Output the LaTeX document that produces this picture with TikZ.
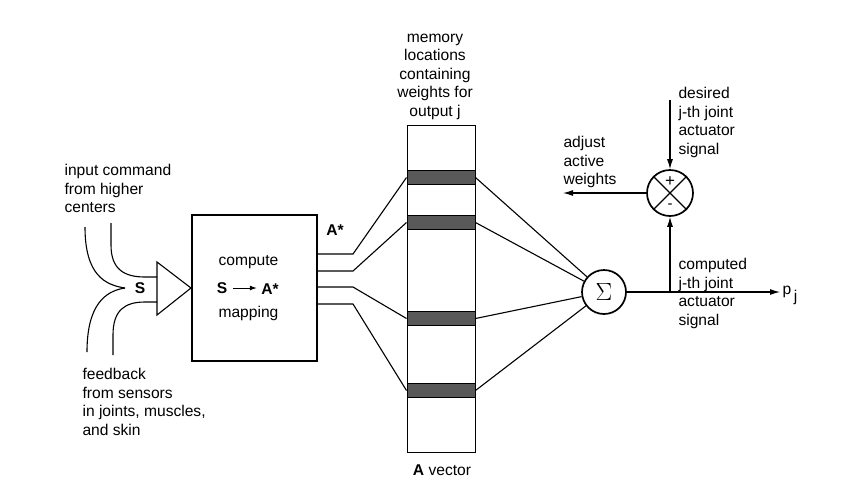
\documentclass[tikz,border=0pt]{standalone}
\usepackage{fontspec}
\setmainfont{Liberation Sans}
\usetikzlibrary{arrows.meta}
\begin{document}
\begin{tikzpicture}[x=1pt,y=-1pt, line width=1.1pt,
  txt/.style={font=\fontsize{15.6}{18.5}\selectfont, inner sep=0pt, align=left},
  btxt/.style={font=\fontsize{15.6}{18.5}\selectfont\bfseries, inner sep=0pt},
  arr/.style={-{Latex[length=10pt,width=6pt]}},
  barbox/.style={draw, fill=black!65, minimum width=68pt, minimum height=14pt, inner sep=0pt, line width=1pt},
  ring/.style={circle, draw, line width=1.7pt, inner sep=0pt}]
\useasboundingbox (0,0) rectangle (841,491);

% input lines
\draw (85,227) .. controls (85,275) and (105,285) .. (125,288);
\draw (125,288) .. controls (105,291) and (87,305) .. (87,352);
\draw (111,223) -- (111,245) .. controls (111,270) and (125,277) .. (145,277) -- (157,277);
\draw (113,355) -- (113,335) .. controls (113,310) and (125,302) .. (145,302) -- (157,302);
\draw (157,262) -- (157,315) -- (191,288) -- cycle;
\node[btxt] (S) at (140,288) {S};

% compute box
\node[draw, minimum width=125pt, minimum height=146pt, inner sep=0pt, line width=1.2pt] (box) at (254.5,288) {};
\node[txt, anchor=west] (cmp) at (218,262) {compute};
\node[txt, anchor=west] (map) at (218,313) {mapping};
\node[btxt] (S2) at (222,288) {S};
\node[btxt] (A2) at (270,289) {A*};
\draw[-{Latex[length=7pt,width=5pt]}, line width=0.9pt, shorten <=5pt, shorten >=4pt] (S2.east) -- (S2.east -| A2.west);
\node[btxt] (Astar) at (335,230) {A*};

% column
\node[draw, minimum width=68pt, minimum height=327pt, inner sep=0pt, line width=1pt] (col) at (441,288.5) {};
\node[barbox] (b1) at (441,177.5) {};
\node[barbox] (b2) at (441,222.5) {};
\node[barbox] (b3) at (441,318.5) {};
\node[barbox] (b4) at (441,390.5) {};

% box outputs to bars
\draw (box.east |- 0,254) -- (353,254) -- (b1.west);
\draw (box.east |- 0,271) -- (353,271) -- (b2.west);
\draw (box.east |- 0,287) -- (353,287) -- (b3.west);
\draw (box.east |- 0,304) -- (353,304) -- (b4.west);

% sigma
\node[ring, minimum size=44pt, font=\fontsize{24}{24}\selectfont] (sig) at (604,292) {$\Sigma$};
\draw (b1.east) -- (sig);
\draw (b2.east) -- (sig);
\draw (b3.east) -- (sig);
\draw (b4.east) -- (sig);

% comparator
\node[ring, minimum size=46pt] (cr) at (670,193) {};
\draw (cr.north east) -- (cr.south west);
\draw (cr.north west) -- (cr.south east);
\node[inner sep=0pt, font=\fontsize{17}{17}\selectfont] (plus) at (670,182) {+};
\node[inner sep=0pt, font=\fontsize{15}{15}\selectfont] (minus) at (670,206) {-};

\coordinate (dtop) at (670,100);
\coordinate (adj) at (563,193);
\coordinate (jn) at (670,292);
\coordinate (out) at (780,292);
\draw[arr] (dtop) -- (cr.north);
\draw[arr] (cr.west) -- (adj);
\draw[arr] (sig.east) -- (out);
\draw[arr] (jn) -- (cr.south);

% labels
\node[txt, anchor=west] (ladj) at (563,162) {adjust\\active\\weights};
\node[txt, anchor=west] (ldes) at (678,122.5) {desired\\j-th joint\\actuator\\signal};
\node[txt, anchor=west] (lcomp) at (678,293.5) {computed\\j-th joint\\actuator\\signal};
\node[txt, anchor=west] (pj) at (782,295) {p\raisebox{-7pt}{\,j}};
\node[txt, align=center] (mem) at (435,76.5) {memory\\locations\\containing\\weights for\\output j};
\node[txt] (avec) at (442,470) {\textbf{A} vector};
\node[txt, anchor=west] (inp) at (64,188.5) {input command\\from higher\\centers};
\node[txt, anchor=west] (fb) at (82,402) {feedback\\from sensors\\in joints, muscles,\\and skin};
\end{tikzpicture}
\end{document}
